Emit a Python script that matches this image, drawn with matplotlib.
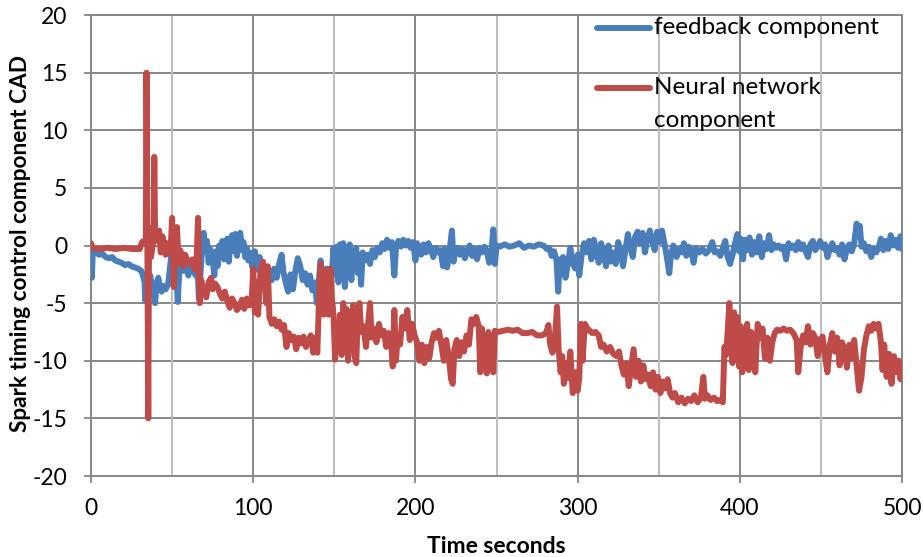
import numpy as np
import matplotlib
matplotlib.use("Agg")
import matplotlib.pyplot as plt

plt.rcParams["font.family"] = ["Lato", "DejaVu Sans"]
plt.rcParams["axes.unicode_minus"] = False

# (time [s], value [CAD]) samples of each control component
feedback_points = [
    (0, -0.2), (0.5, -2.8), (1.2, -0.3), (3, -0.6), (5, -0.8), (7, -0.7), (9, -1.0), (11, -1.1),
    (13, -1.0), (15, -1.3), (17, -1.4), (19, -1.5), (21, -1.7), (23, -1.6), (25, -1.8), (27, -1.9),
    (29, -2.0), (31, -2.2), (32, -2.6), (33, -3.2), (33.5, -4.8), (34.5, -3.0), (35.5, -3.8),
    (36.5, -2.6), (37.5, -3.5), (38.5, -4.2), (39.5, -5.0), (40.5, -3.2), (41.5, -2.8), (42.5, -3.6),
    (43.5, -4.0), (44.5, -3.5), (46, -3.8), (47.5, -3.4), (48.5, -2.2), (49.5, -0.8), (50.5, -1.5),
    (51.5, -0.6), (52.5, -2.2), (53.5, -4.9), (54.5, -2.0), (55.5, -1.5), (57, -2.2), (58.5, -1.2),
    (60, -2.6), (61.5, -1.6), (63, -2.0), (64.5, -2.6), (65.5, -1.0), (66.5, -4.6), (67.5, -2.5),
    (68.5, -0.2), (69.5, 1.1), (70.5, -0.5), (71.5, 0.4), (72.5, -1.5), (73.5, -0.3), (75, -1.2),
    (76, -2.6), (77, -0.5), (78, -1.8), (79, 0.0), (80, -0.8), (81, 0.4), (82, -1.2), (83, -0.2),
    (84, 0.6), (85, -1.4), (86, 0.2), (87, 0.9), (88, -0.5), (89, 1.0), (90, -0.9), (91, 0.5),
    (92, 1.1), (93, -0.4), (94, 0.3), (95, -1.0), (96, -0.2), (97, -1.3),
    (98, -0.6), (99.5, -1.9), (101, -0.5), (102.5, -2.1), (104, -1.0), (105.5, -2.6), (107, -1.8),
    (108.5, -3.5), (110, -2.2), (111.5, -3.0), (113, -2.0), (114.5, -2.8), (116, -1.6), (117.5, -0.8),
    (118.5, -2.2), (120, -3.2), (121.5, -4.0), (123, -2.5), (124.5, -3.8), (126, -2.2), (127.5, -1.1),
    (129, -1.8), (130.5, -3.0), (132, -2.4), (133.5, -3.4), (135, -2.6), (136.5, -3.9), (138, -3.2),
    (139.2, -5.0), (140.5, -3.0), (141.5, -1.3), (142.5, -2.2), (144, -2.8), (145.5, -2.0),
    (147, -3.6), (148.5, -2.4), (149.5, -0.2), (150.5, -2.5), (151.5, -0.1), (152.5, -3.2),
    (153.5, 0.1), (154.5, -2.0), (155.5, 0.2), (156.5, -3.6), (157.5, -0.3), (158.5, -1.5),
    (159.5, 0.1), (160.5, -3.0), (161.5, -0.5), (162.5, -1.8), (163.5, -0.2), (164.5, -2.4),
    (165.5, -0.8), (166.5, -3.4), (167.5, -0.6), (169, -1.3), (170.5, -0.8), (172, -1.6),
    (173.5, -0.4), (175, -1.0), (176.5, -0.2), (178, -0.6), (179.5, 0.2), (181, -0.3), (182.5, 0.5),
    (184, -0.2), (185.5, 0.3), (187, -2.6), (188, -0.2), (189.5, 0.4), (191, -0.1), (192.5, 0.5),
    (194, 0.0), (195.5, 0.4), (197, -0.2), (198.5, 0.3), (200, -1.3), (201, 0.2), (202.5, -0.3),
    (203.5, -0.8), (205, 0.1), (206.5, -0.6), (208, 0.2), (209.5, -0.3), (211, -1.0), (212.5, -0.2),
    (214, -0.6), (215.5, -0.4), (217, -1.8), (218, -0.3), (219.5, -1.9), (221, -0.5), (222.5, 1.3),
    (223.5, -1.4), (224.5, -0.5), (226, -0.2), (227.5, -0.8), (229, -0.3), (230.5, -1.1),
    (232, -0.4), (233.5, 0.0), (235, -0.9), (236.5, -0.3), (238, -1.2), (239.5, -0.2), (241, -0.6),
    (242.5, -0.1), (244, -0.5), (245.5, -1.5), (247, -0.3), (248, 1.4), (249, -1.6), (250, 0.0),
    (252, -0.1), (255, 0.1), (258, -0.1), (261, 0.0), (264, 0.2), (267, -0.2), (270, 0.0),
    (273, -0.1), (276, 0.1), (279, 0.0), (281, -0.3), (282.5, -0.2), (284, -0.9), (285.5, -0.5),
    (287, -1.3), (288, -4.0), (289, -1.2), (290, -2.4), (291, -1.0), (292.5, -2.8), (294, -1.6),
    (295.5, -0.2), (297, -1.5), (298.5, -2.0), (300, -0.8), (301, -2.6),
    (302.5, -0.8), (304, 0.2), (305.5, -0.6), (307, 0.4), (308.5, -1.2), (310, 0.5), (311.5, -0.4),
    (313, -1.5), (314.5, 0.2), (316, -0.8), (317.5, -1.8), (319, 0.0), (320.5, -1.4), (322, -0.6),
    (323.5, -1.6), (325, 0.3), (326.5, -0.5), (328, -1.8), (329.5, -0.3), (331, 1.0), (332.5, -0.2),
    (334, -1.0), (335.5, 0.8), (337, 1.2), (338.5, 0.2), (340, 1.1), (341.5, -0.6), (343, 0.6),
    (344.5, 1.3), (346, 0.4), (347.5, -0.4), (349, 1.2), (350.5, 0.3), (352, 1.3), (353.5, 0.2),
    (355, -1.0), (356.5, -2.4), (357.5, -0.8), (359, 0.0), (361, -1.0), (362.5, -0.3), (364, -0.6),
    (365.5, 0.2), (367, -0.9), (368.5, -0.1), (370, -0.4), (371.5, -1.5), (373, -0.2), (375, -0.6),
    (377, -0.3), (379, -0.7), (381, -0.4), (383, 0.3), (384.5, -0.6), (386, -0.5), (388, -0.9),
    (389.5, -0.2), (391, 0.4), (392.5, -1.0), (394, -1.6), (395.5, -0.8), (397, 0.2), (398.5, 1.0),
    (399.5, -0.5), (400.5, 0.6), (402, -1.2), (403, 0.5), (404.5, -0.4), (406, 0.7), (407.5, -0.8),
    (409, 0.3), (410.5, -0.6), (412, 0.8), (413.5, -1.0), (415, 0.2), (416.5, -0.3), (418, 0.9),
    (419.5, -0.4), (421, 0.1), (422.5, -0.2), (424, 0.0), (425.5, -0.3), (427, -0.1), (428.5, -1.2),
    (430, 0.2), (431.5, -0.2), (433, 0.0), (434.5, -0.4), (436, 0.3), (437.5, -0.3), (439, 0.1),
    (440.5, -0.5), (442, -1.0), (443.5, 0.1), (445, 0.4), (446.5, -0.4), (448, -0.1), (449.5, 0.4),
    (451, -0.2), (452.5, 0.1), (454, -1.0), (455.5, -0.3), (457, 0.2), (458.5, -0.4), (460, -0.2),
    (461.5, -0.8), (463, 0.1), (464.5, -1.2), (466, -0.3), (467.5, 0.1), (469, -0.5), (470.5, 0.2),
    (472, 1.9), (473, 0.8), (474, 1.7), (475, -0.1), (476.5, 0.2), (478, -0.5), (479.5, -0.1),
    (481, -1.0), (482.5, -0.3), (484, -0.6), (485.5, -0.2), (487, 0.6), (488.5, -0.4), (490, 0.4),
    (491.5, -0.3), (493, 0.9), (494.5, 0.0), (496, 0.5), (497.5, -0.2), (499, 0.8), (500, -0.3),
]

neural_points = [
    (0, 0.2), (1, -0.2), (5, -0.3), (10, -0.2), (15, -0.3), (20, -0.2), (25, -0.3), (30, -0.3),
    (31.5, 0.3), (33.8, 0.5), (34.2, 15.0), (34.7, 0.8), (35.3, -15.0), (35.8, 1.5), (37, -1.0),
    (38.6, 0.6), (39.0, 7.7), (39.5, 1.0), (41, 0.4), (42, 1.3), (43, -0.6), (44, 0.8), (45, 0.2),
    (46, -0.8), (47, 0.2), (48, -0.5), (49, -0.6), (50, 2.4), (51, -3.6), (52, 0.2), (53, 1.6),
    (54, -1.5), (55, -0.4), (56, -0.9), (57, -1.8), (58, -0.8), (59.5, -1.3), (61, -1.6),
    (62.5, -1.2), (64, -2.1), (65, -1.5), (66, 2.4), (67, -5.0), (68, -3.0), (69, -4.0), (70, -3.6),
    (71, -4.5), (72.5, -3.2), (74, -2.8), (75, -3.8), (76.5, -3.3), (78, -3.6), (79.5, -4.2),
    (81, -4.6), (82.5, -4.0), (84, -4.8), (85.5, -5.4), (87, -4.6), (88.5, -5.0), (90, -5.6),
    (91.5, -5.3), (93, -4.7), (94.5, -5.5), (96, -4.6), (97.5, -5.2),
    (99, -5.0), (100, -2.0), (101, -5.8), (102, -3.2), (103, -6.0), (104.5, -2.2), (106, -1.4),
    (107, -2.5), (108, -5.0), (109, -1.8), (110, -6.2), (111.5, -6.8), (113, -6.4), (114.5, -7.0),
    (116, -6.6), (117.5, -7.3), (119, -6.9), (120.5, -8.8), (122, -7.6), (123.5, -8.2), (125, -7.9),
    (126.5, -9.0), (128, -8.0), (129.5, -8.5), (131, -7.9), (132.5, -8.8), (134, -8.2),
    (135.5, -7.8), (137, -9.3), (138.5, -8.0), (139.5, -9.3), (140.5, -5.0), (141.5, -1.6),
    (142.5, -2.5), (143.5, -6.0), (144.5, -2.2), (145.5, -3.5), (146.5, -6.0), (147.5, -2.0),
    (148.5, -4.5), (149.5, -6.0), (150.5, -9.9), (151.5, -7.0), (152.5, -9.0), (153.5, -6.0),
    (154.5, -9.5), (155.5, -5.0), (156.5, -8.5), (157.5, -5.5), (158.5, -10.0), (159.5, -6.5),
    (160.5, -8.8), (161.5, -5.2), (162.5, -9.6), (163.5, -10.2), (164.5, -6.0), (165.5, -5.0),
    (166.5, -7.5), (168, -7.0), (169.5, -8.8), (171, -6.6), (172, -5.0), (173, -8.0), (174.5, -7.2),
    (176, -8.4), (177.5, -6.8), (179, -7.8), (180.5, -7.4), (182, -8.8), (183.5, -7.6), (185, -8.2),
    (186, -10.5), (187, -5.6), (188, -10.0), (189, -8.0), (190.5, -8.6), (192, -6.2), (193.5, -7.2),
    (195, -5.6), (196.5, -8.2), (198, -6.8), (199.5, -7.8), (201, -8.4), (202.5, -10.0),
    (204, -8.6), (205.5, -10.2), (207, -8.8), (208.5, -9.8), (210, -8.4), (211.5, -7.6), (213, -8.0),
    (214.5, -7.4), (216, -8.6), (217.5, -10.0), (219, -8.2), (220.5, -9.6), (222, -11.6),
    (223, -12.0), (224, -9.0), (225.5, -8.2), (227, -9.6), (228.5, -8.4), (230, -9.2), (231.5, -7.8),
    (233, -8.6), (234.5, -6.4), (236, -6.8), (237.5, -6.2), (239, -7.0), (240, -11.0), (241, -7.2),
    (242, -10.5), (243, -8.0), (244, -11.1), (245, -7.5), (246, -10.6), (247, -8.4), (248, -11.0),
    (249, -7.4), (251, -7.5), (254, -7.4), (257, -7.3), (260, -7.4), (263, -7.3), (266, -7.6),
    (269, -7.6), (272, -7.5), (275, -7.8), (278, -7.8), (280.5, -7.6), (282, -6.9), (283, -8.5),
    (284.5, -9.3), (286, -8.0), (287.3, -5.3), (288.3, -9.0), (289.5, -11.0), (290.5, -9.6),
    (291.5, -12.0), (292.5, -10.2), (294, -11.5), (295.5, -9.2), (297, -12.8), (298.5, -11.0),
    (300, -12.6), (301, -11.5),
    (302, -6.8), (303, -10.0), (304.5, -6.8), (306, -7.2), (307.5, -7.4), (309, -7.6), (311, -7.5),
    (313, -7.8), (314.5, -8.8), (316, -8.6), (318, -9.2), (320, -8.8), (322, -9.4), (324, -9.6),
    (325.5, -9.2), (327, -10.4), (328.5, -11.2), (330, -10.2), (331.5, -12.2), (333, -10.6),
    (334.5, -9.0), (336, -11.4), (337.5, -10.0), (339, -11.8), (340.5, -10.4), (342, -11.6),
    (343.5, -11.2), (345, -12.2), (346.5, -11.0), (348, -12.5), (349.5, -11.4), (351, -12.8),
    (352.5, -11.8), (354, -12.4), (355.5, -11.6), (357, -12.8), (358.5, -13.2), (360, -12.8),
    (362, -13.6), (364, -13.2), (366, -13.7), (368, -13.3), (370, -13.5), (372, -13.0),
    (374, -13.6), (376, -13.2), (377.5, -11.4), (378.5, -13.3), (380, -13.0), (382, -13.4),
    (384, -13.2), (386, -13.5), (388, -13.4), (389.5, -13.6), (390.5, -8.8), (391.5, -9.5),
    (392.5, -7.5), (393.5, -5.0), (394.5, -7.0), (395.5, -10.2), (396.5, -5.8), (397.5, -9.0),
    (398.5, -6.2), (399.5, -10.5),
    (400.5, -7.0), (401.5, -11.0), (403, -8.0), (404.5, -6.8), (405.5, -10.8), (407, -7.5),
    (408.5, -8.4), (409.5, -11.0), (411, -6.8), (412.5, -8.0), (414, -7.2), (415.5, -9.8),
    (417, -8.0), (418.5, -10.0), (420, -8.4), (421.5, -7.6), (423, -7.3), (425, -7.4), (427, -7.2),
    (429, -7.4), (431, -7.3), (433, -7.6), (435, -8.2), (436, -11.0), (437.5, -8.8), (439, -7.8),
    (440.5, -8.4), (442, -7.0), (443.5, -8.6), (445, -7.6), (446.5, -8.0), (448, -9.6), (449.5, -8.2),
    (451, -7.9), (452.5, -9.6), (454, -11.0), (455.5, -8.6), (457, -7.6), (458.5, -9.2), (460, -8.0),
    (461.5, -10.4), (463, -8.4), (464.5, -9.0), (466, -10.6), (467.5, -8.6), (469, -9.8),
    (470.5, -8.2), (472, -10.4), (473.5, -12.6), (475, -11.4), (476.5, -9.0), (478, -7.8),
    (479.5, -7.0), (481, -7.4), (482.5, -6.8), (484, -7.2), (485.5, -6.8), (487, -8.4), (488, -10.8),
    (489, -8.6), (490.5, -11.4), (492, -9.4), (493.5, -12.0), (495, -9.6), (496.5, -11.0),
    (498, -10.0), (499, -11.6), (500, -10.9),
]

series_labels = [["feedback component"], ["Neural network", "component"]]
series_colors = ["#4A7EBB", "#BE4B48"]
x_ticks = [0, 100, 200, 300, 400, 500]
y_ticks = [-20, -15, -10, -5, 0, 5, 10, 15, 20]

fb_t, fb_v = np.array(feedback_points).T
nn_t, nn_v = np.array(neural_points).T

fig = plt.figure(figsize=(9.23, 5.57), dpi=100)
ax = fig.add_axes([0.0986, 0.1454, 0.8787, 0.8276])

grid_dark = "#878787"
grid_light = "#BDBDBD"

# gridlines: horizontal every 5, vertical every 50 (lighter at the half steps)
for y in y_ticks:
    ax.axhline(y, color=grid_dark, lw=1.4, zorder=0)
for x in range(0, 501, 50):
    ax.axvline(x, color=grid_dark if x % 100 == 0 else grid_light, lw=1.4, zorder=0)

line_kw = dict(lw=4.3, solid_joinstyle="round", solid_capstyle="round", zorder=3)
ax.plot(fb_t, fb_v, color=series_colors[0], **line_kw)
ax.plot(nn_t, nn_v, color=series_colors[1], **line_kw)

ax.set_xlim(0, 500)
ax.set_ylim(-20, 20)
ax.set_xticks(x_ticks)
ax.set_yticks(y_ticks)
ax.set_xticklabels([str(v) for v in x_ticks])
ax.set_yticklabels([str(v) for v in y_ticks])
ax.tick_params(axis="both", which="major", labelsize=16.5, length=5, width=1.3,
               color=grid_dark, direction="out")
ax.tick_params(axis="x", pad=11)
ax.tick_params(axis="y", pad=12)
for s in ax.spines.values():
    s.set_color(grid_dark)
    s.set_linewidth(1.4)

ax.set_xlabel("Time seconds", fontsize=16.5, fontweight="bold")
ax.set_ylabel("Spark timing control component CAD", fontsize=16.3, fontweight="bold")
ax.xaxis.set_label_coords(0.5, -0.152)
ax.xaxis.label.set_va("center")
ax.yaxis.set_label_coords(-0.087, 0.505)
ax.yaxis.label.set_va("center")
ax.yaxis.label.set_ha("center")

# legend drawn inside the plot area without a frame
leg_y = [0.972, 0.842]
line_step = 0.0716
for y, color, lines in zip(leg_y, series_colors, series_labels):
    ax.plot([0.624, 0.689], [y, y], transform=ax.transAxes, color=color, lw=4.3,
            solid_capstyle="round", zorder=4, clip_on=False)
    for i, txt in enumerate(lines):
        ax.text(0.694, y - i * line_step, txt, transform=ax.transAxes, fontsize=17.5,
                va="center", ha="left", zorder=5)

fig.savefig("out.png", dpi=100)
